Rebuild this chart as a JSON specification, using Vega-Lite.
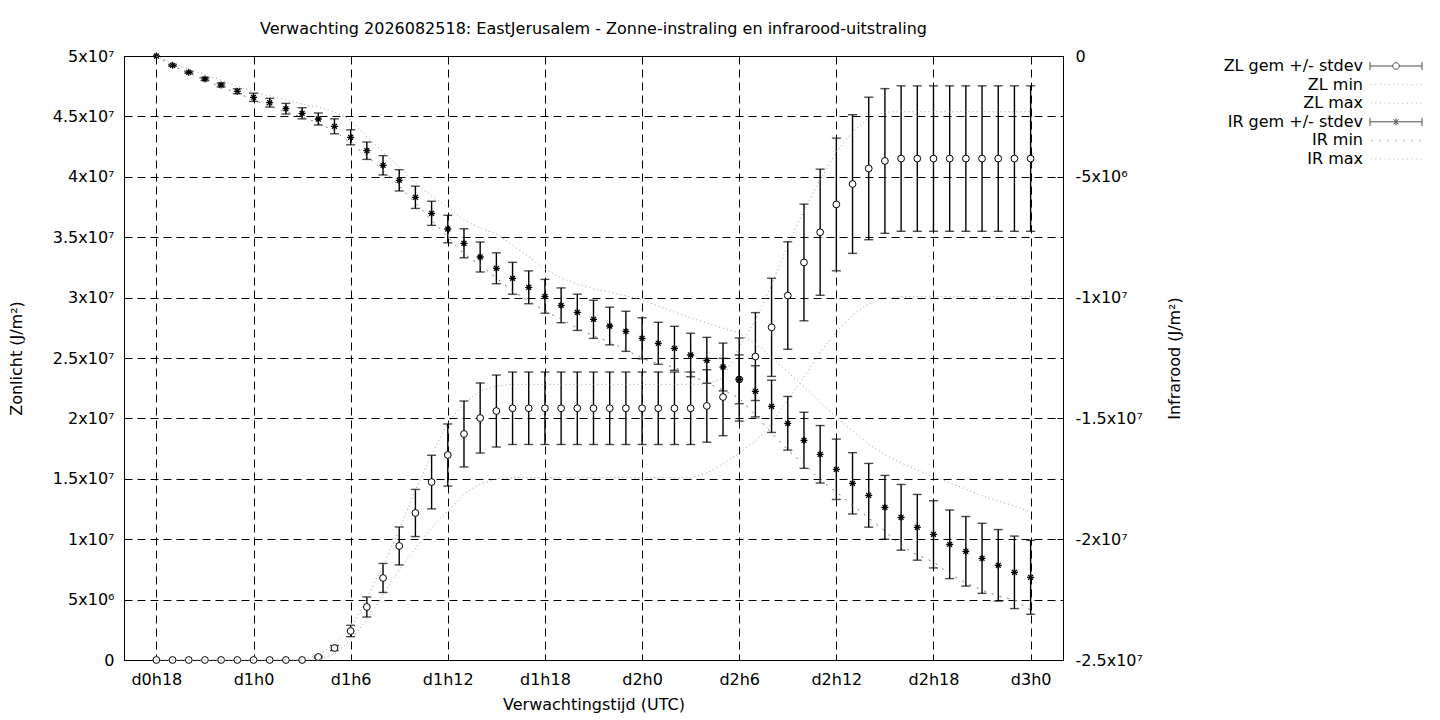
{
  "$schema": "https://vega.github.io/schema/vega-lite/v6.json",
  "width": 939,
  "height": 604,
  "autosize": "none",
  "padding": {"left": 124, "top": 56, "right": 377, "bottom": 60},
  "background": "white",
  "title": {
    "text": "Verwachting 2026082518: EastJerusalem - Zonne-instraling en infrarood-uitstraling",
    "font": "DejaVu Sans", "fontSize": 16, "fontWeight": "normal", "color": "black",
    "frame": "group", "anchor": "middle", "offset": 11
  },
  "datasets": {
    "fc": [
      {"h":18,"zl":0,"zl_sd":0,"zl_min":0,"zl_max":0,"ir":0,"ir_sd":0,"ir_min":0,"ir_max":0},
      {"h":19,"zl":0,"zl_sd":0,"zl_min":0,"zl_max":0,"ir":-385000,"ir_sd":40000,"ir_min":-414000,"ir_max":-290000},
      {"h":20,"zl":0,"zl_sd":0,"zl_min":0,"zl_max":0,"ir":-675000,"ir_sd":40000,"ir_min":-704000,"ir_max":-538000},
      {"h":21,"zl":0,"zl_sd":0,"zl_min":0,"zl_max":0,"ir":-952000,"ir_sd":60000,"ir_min":-993000,"ir_max":-786000},
      {"h":22,"zl":0,"zl_sd":0,"zl_min":0,"zl_max":0,"ir":-1200000,"ir_sd":80000,"ir_min":-1283000,"ir_max":-993000},
      {"h":23,"zl":0,"zl_sd":0,"zl_min":0,"zl_max":0,"ir":-1461000,"ir_sd":100000,"ir_min":-1531000,"ir_max":-1242000},
      {"h":24,"zl":0,"zl_sd":0,"zl_min":0,"zl_max":0,"ir":-1709000,"ir_sd":170000,"ir_min":-1821000,"ir_max":-1490000},
      {"h":25,"zl":0,"zl_sd":0,"zl_min":0,"zl_max":0,"ir":-1933000,"ir_sd":180000,"ir_min":-2070000,"ir_max":-1656000},
      {"h":26,"zl":0,"zl_sd":0,"zl_min":0,"zl_max":0,"ir":-2181000,"ir_sd":220000,"ir_min":-2318000,"ir_max":-1821000},
      {"h":27,"zl":0,"zl_sd":0,"zl_min":0,"zl_max":0,"ir":-2372000,"ir_sd":230000,"ir_min":-2525000,"ir_max":-1987000},
      {"h":28,"zl":248000,"zl_sd":80000,"zl_min":0,"zl_max":410000,"ir":-2608000,"ir_sd":250000,"ir_min":-2773000,"ir_max":-2111000},
      {"h":29,"zl":993000,"zl_sd":210000,"zl_min":500000,"zl_max":1320000,"ir":-2910000,"ir_sd":310000,"ir_min":-3104000,"ir_max":-2318000},
      {"h":30,"zl":2400000,"zl_sd":470000,"zl_min":1660000,"zl_max":2650000,"ir":-3365000,"ir_sd":310000,"ir_min":-3601000,"ir_max":-2649000},
      {"h":31,"zl":4390000,"zl_sd":830000,"zl_min":3310000,"zl_max":5130000,"ir":-3920000,"ir_sd":360000,"ir_min":-4139000,"ir_max":-3353000},
      {"h":32,"zl":6790000,"zl_sd":1200000,"zl_min":5460000,"zl_max":7780000,"ir":-4524000,"ir_sd":400000,"ir_min":-4719000,"ir_max":-3974000},
      {"h":33,"zl":9440000,"zl_sd":1570000,"zl_min":7450000,"zl_max":10760000,"ir":-5145000,"ir_sd":440000,"ir_min":-5381000,"ir_max":-4594000},
      {"h":34,"zl":12170000,"zl_sd":1950000,"zl_min":9270000,"zl_max":14070000,"ir":-5849000,"ir_sd":460000,"ir_min":-6084000,"ir_max":-5257000},
      {"h":35,"zl":14730000,"zl_sd":2220000,"zl_min":10930000,"zl_max":16970000,"ir":-6511000,"ir_sd":500000,"ir_min":-6788000,"ir_max":-5795000},
      {"h":36,"zl":16970000,"zl_sd":2570000,"zl_min":12330000,"zl_max":19620000,"ir":-7161000,"ir_sd":570000,"ir_min":-7492000,"ir_max":-6250000},
      {"h":37,"zl":18710000,"zl_sd":2730000,"zl_min":13740000,"zl_max":21270000,"ir":-7753000,"ir_sd":600000,"ir_min":-8195000,"ir_max":-6788000},
      {"h":38,"zl":20030000,"zl_sd":2900000,"zl_min":14570000,"zl_max":22270000,"ir":-8320000,"ir_sd":620000,"ir_min":-8651000,"ir_max":-7119000},
      {"h":39,"zl":20610000,"zl_sd":2980000,"zl_min":15020000,"zl_max":22680000,"ir":-8787000,"ir_sd":640000,"ir_min":-9189000,"ir_max":-7368000},
      {"h":40,"zl":20840000,"zl_sd":3000000,"zl_min":15090000,"zl_max":22820000,"ir":-9201000,"ir_sd":660000,"ir_min":-9727000,"ir_max":-7823000},
      {"h":41,"zl":20840000,"zl_sd":3000000,"zl_min":15090000,"zl_max":22820000,"ir":-9574000,"ir_sd":680000,"ir_min":-10141000,"ir_max":-8320000},
      {"h":42,"zl":20840000,"zl_sd":3000000,"zl_min":15090000,"zl_max":22820000,"ir":-9946000,"ir_sd":700000,"ir_min":-10555000,"ir_max":-8816000},
      {"h":43,"zl":20840000,"zl_sd":3000000,"zl_min":15090000,"zl_max":22820000,"ir":-10319000,"ir_sd":720000,"ir_min":-10886000,"ir_max":-9189000},
      {"h":44,"zl":20840000,"zl_sd":3000000,"zl_min":15090000,"zl_max":22820000,"ir":-10609000,"ir_sd":750000,"ir_min":-11258000,"ir_max":-9437000},
      {"h":45,"zl":20840000,"zl_sd":3000000,"zl_min":15090000,"zl_max":22820000,"ir":-10898000,"ir_sd":790000,"ir_min":-11589000,"ir_max":-9644000},
      {"h":46,"zl":20840000,"zl_sd":3000000,"zl_min":15090000,"zl_max":22820000,"ir":-11176000,"ir_sd":780000,"ir_min":-11838000,"ir_max":-9768000},
      {"h":47,"zl":20840000,"zl_sd":3000000,"zl_min":15090000,"zl_max":22820000,"ir":-11395000,"ir_sd":830000,"ir_min":-12169000,"ir_max":-9934000},
      {"h":48,"zl":20840000,"zl_sd":3000000,"zl_min":15090000,"zl_max":22820000,"ir":-11685000,"ir_sd":850000,"ir_min":-12500000,"ir_max":-10099000},
      {"h":49,"zl":20840000,"zl_sd":3000000,"zl_min":15090000,"zl_max":22820000,"ir":-11892000,"ir_sd":870000,"ir_min":-12748000,"ir_max":-10348000},
      {"h":50,"zl":20840000,"zl_sd":3000000,"zl_min":15090000,"zl_max":22820000,"ir":-12099000,"ir_sd":910000,"ir_min":-12873000,"ir_max":-10596000},
      {"h":51,"zl":20840000,"zl_sd":3000000,"zl_min":15090000,"zl_max":22820000,"ir":-12376000,"ir_sd":900000,"ir_min":-13204000,"ir_max":-10844000},
      {"h":52,"zl":21030000,"zl_sd":3000000,"zl_min":15480000,"zl_max":22820000,"ir":-12595000,"ir_sd":950000,"ir_min":-13535000,"ir_max":-11051000},
      {"h":53,"zl":21770000,"zl_sd":3200000,"zl_min":16220000,"zl_max":23340000,"ir":-12873000,"ir_sd":990000,"ir_min":-13825000,"ir_max":-11258000},
      {"h":54,"zl":23220000,"zl_sd":3440000,"zl_min":17140000,"zl_max":25910000,"ir":-13382000,"ir_sd":1010000,"ir_min":-14156000,"ir_max":-11465000},
      {"h":55,"zl":25120000,"zl_sd":3640000,"zl_min":18130000,"zl_max":28150000,"ir":-13879000,"ir_sd":1060000,"ir_min":-14860000,"ir_max":-11921000},
      {"h":56,"zl":27540000,"zl_sd":4060000,"zl_min":19620000,"zl_max":31040000,"ir":-14500000,"ir_sd":1080000,"ir_min":-15600000,"ir_max":-12459000},
      {"h":57,"zl":30170000,"zl_sd":4450000,"zl_min":21520000,"zl_max":34350000,"ir":-15203000,"ir_sd":1110000,"ir_min":-16308000,"ir_max":-13080000},
      {"h":58,"zl":32910000,"zl_sd":4830000,"zl_min":23430000,"zl_max":37250000,"ir":-15907000,"ir_sd":1160000,"ir_min":-16888000,"ir_max":-13701000},
      {"h":59,"zl":35410000,"zl_sd":5220000,"zl_min":25500000,"zl_max":39730000,"ir":-16486000,"ir_sd":1190000,"ir_min":-17550000,"ir_max":-14321000},
      {"h":60,"zl":37710000,"zl_sd":5490000,"zl_min":27150000,"zl_max":42050000,"ir":-17107000,"ir_sd":1250000,"ir_min":-18047000,"ir_max":-14942000},
      {"h":61,"zl":39400000,"zl_sd":5740000,"zl_min":28560000,"zl_max":43710000,"ir":-17687000,"ir_sd":1270000,"ir_min":-18585000,"ir_max":-15522000},
      {"h":62,"zl":40690000,"zl_sd":5900000,"zl_min":29470000,"zl_max":44870000,"ir":-18183000,"ir_sd":1320000,"ir_min":-19123000,"ir_max":-16060000},
      {"h":63,"zl":41310000,"zl_sd":5990000,"zl_min":29970000,"zl_max":45360000,"ir":-18680000,"ir_sd":1320000,"ir_min":-19661000,"ir_max":-16515000},
      {"h":64,"zl":41510000,"zl_sd":6020000,"zl_min":30070000,"zl_max":45390000,"ir":-19094000,"ir_sd":1360000,"ir_min":-20282000,"ir_max":-16846000},
      {"h":65,"zl":41510000,"zl_sd":6020000,"zl_min":30070000,"zl_max":45390000,"ir":-19508000,"ir_sd":1360000,"ir_min":-20654000,"ir_max":-17136000},
      {"h":66,"zl":41510000,"zl_sd":6020000,"zl_min":30070000,"zl_max":45390000,"ir":-19798000,"ir_sd":1390000,"ir_min":-20944000,"ir_max":-17426000},
      {"h":67,"zl":41510000,"zl_sd":6020000,"zl_min":30070000,"zl_max":45390000,"ir":-20212000,"ir_sd":1420000,"ir_min":-21441000,"ir_max":-17674000},
      {"h":68,"zl":41510000,"zl_sd":6020000,"zl_min":30070000,"zl_max":45390000,"ir":-20501000,"ir_sd":1440000,"ir_min":-21813000,"ir_max":-17922000},
      {"h":69,"zl":41510000,"zl_sd":6020000,"zl_min":30070000,"zl_max":45390000,"ir":-20791000,"ir_sd":1450000,"ir_min":-22103000,"ir_max":-18212000},
      {"h":70,"zl":41510000,"zl_sd":6020000,"zl_min":30070000,"zl_max":45390000,"ir":-21081000,"ir_sd":1480000,"ir_min":-22351000,"ir_max":-18419000},
      {"h":71,"zl":41510000,"zl_sd":6020000,"zl_min":30070000,"zl_max":45390000,"ir":-21371000,"ir_sd":1500000,"ir_min":-22517000,"ir_max":-18626000},
      {"h":72,"zl":41510000,"zl_sd":6020000,"zl_min":30070000,"zl_max":45390000,"ir":-21578000,"ir_sd":1530000,"ir_min":-22931000,"ir_max":-18874000}
    ],
    "legend": [
      {"series": "ZL gem +/- stdev"},
      {"series": "ZL min"},
      {"series": "ZL max"},
      {"series": "IR gem +/- stdev"},
      {"series": "IR min"},
      {"series": "IR max"}
    ]
  },
  "layer": [
    {
      "data": {"name": "fc"},
      "encoding": {
        "x": {
          "field": "h", "type": "quantitative", "title": "Verwachtingstijd (UTC)",
          "scale": {"domain": [16, 74], "nice": false, "zero": false},
          "axis": {
            "values": [18, 24, 30, 36, 42, 48, 54, 60, 66, 72],
            "labelExpr": "'d' + floor(datum.value / 24) + 'h' + (datum.value % 24)",
            "grid": true, "gridDash": [8, 5], "gridColor": "black",
            "labelPadding": 17, "titlePadding": 9
          }
        }
      },
      "layer": [
        {
          "transform": [{"filter": "datum.zl_sd > 0"}],
          "mark": {"type": "errorbar", "color": "black", "thickness": 1.4, "ticks": {"size": 9}},
          "encoding": {
            "y": {"field": "zl", "type": "quantitative", "title": "Zonlicht (J/m²)"},
            "yError": {"field": "zl_sd"}
          }
        },
        {
          "mark": {"type": "point", "shape": "circle", "size": 46, "filled": true, "fill": "white", "stroke": "black", "strokeWidth": 1, "opacity": 1},
          "encoding": {
            "y": {
              "field": "zl", "type": "quantitative", "title": "Zonlicht (J/m²)",
              "scale": {"domain": [0, 50000000], "nice": false},
              "axis": {
                "orient": "left",
                "values": [0, 5000000, 10000000, 15000000, 20000000, 25000000, 30000000, 35000000, 40000000, 45000000, 50000000],
                "labelExpr": "datum.value == 0 ? '0' : (abs(datum.value) >= 10000000 ? (datum.value / 10000000) + 'x10⁷' : (datum.value / 1000000) + 'x10⁶')",
                "grid": true, "gridDash": [8, 5], "gridColor": "black",
                "labelPadding": 16, "titlePadding": 28
              }
            }
          }
        },
        {
          "mark": {"type": "line", "color": "#999999", "strokeWidth": 1, "strokeDash": [1, 3]},
          "encoding": {"y": {"field": "zl_min", "type": "quantitative", "title": "Zonlicht (J/m²)"}}
        },
        {
          "mark": {"type": "line", "color": "#999999", "strokeWidth": 1, "strokeDash": [1, 3]},
          "encoding": {"y": {"field": "zl_max", "type": "quantitative", "title": "Zonlicht (J/m²)"}}
        }
      ]
    },
    {
      "data": {"name": "fc"},
      "encoding": {
        "x": {
          "field": "h", "type": "quantitative", "title": "Verwachtingstijd (UTC)",
          "scale": {"domain": [16, 74], "nice": false, "zero": false}
        }
      },
      "layer": [
        {
          "transform": [{"filter": "datum.ir_sd > 0"}],
          "mark": {"type": "errorbar", "color": "black", "thickness": 1.4, "ticks": {"size": 9}},
          "encoding": {
            "y": {"field": "ir", "type": "quantitative", "title": "Infrarood (J/m²)"},
            "yError": {"field": "ir_sd"}
          }
        },
        {
          "mark": {"type": "point", "shape": "M-1,0H1M0,-1V1M-0.7,-0.7L0.7,0.7M-0.7,0.7L0.7,-0.7", "size": 49, "filled": false, "stroke": "black", "strokeWidth": 1.3, "opacity": 1},
          "encoding": {
            "y": {
              "field": "ir", "type": "quantitative", "title": "Infrarood (J/m²)",
              "scale": {"domain": [-25000000, 0], "nice": false, "zero": false},
              "axis": {
                "orient": "right",
                "values": [-25000000, -20000000, -15000000, -10000000, -5000000, 0],
                "labelExpr": "datum.value == 0 ? '0' : (abs(datum.value) >= 10000000 ? (datum.value / 10000000) + 'x10⁷' : (datum.value / 1000000) + 'x10⁶')",
                "grid": false,
                "labelPadding": 18, "titlePadding": 24,
                "titleAngle": 270, "titleBaseline": "top"
              }
            }
          }
        },
        {
          "mark": {"type": "line", "color": "#777777", "strokeWidth": 1, "strokeDash": [2, 6]},
          "encoding": {"y": {"field": "ir_min", "type": "quantitative", "title": "Infrarood (J/m²)"}}
        },
        {
          "mark": {"type": "line", "color": "#999999", "strokeWidth": 1, "strokeDash": [1, 3]},
          "encoding": {"y": {"field": "ir_max", "type": "quantitative", "title": "Infrarood (J/m²)"}}
        }
      ]
    },
    {
      "data": {"name": "legend"},
      "transform": [{"filter": "false"}],
      "mark": {"type": "point", "filled": false},
      "encoding": {
        "shape": {
          "field": "series", "type": "nominal",
          "scale": {
            "domain": ["ZL gem +/- stdev", "ZL min", "ZL max", "IR gem +/- stdev", "IR min", "IR max"],
            "range": [
              "M-6.5,-1V1M6.5,-1V1M-6.5,0H-0.83M0.83,0H6.5M0.83,0A0.83,0.83,0,1,1,-0.83,0A0.83,0.83,0,1,1,0.83,0",
              "M-6.3,0h0.25M-5.17,0h0.25M-4.04,0h0.25M-2.91,0h0.25M-1.78,0h0.25M-0.65,0h0.25M0.48,0h0.25M1.61,0h0.25M2.74,0h0.25M3.87,0h0.25M5,0h0.25M6.13,0h0.25",
              "M-6.3,0h0.25M-5.17,0h0.25M-4.04,0h0.25M-2.91,0h0.25M-1.78,0h0.25M-0.65,0h0.25M0.48,0h0.25M1.61,0h0.25M2.74,0h0.25M3.87,0h0.25M5,0h0.25M6.13,0h0.25",
              "M-6.5,-1V1M6.5,-1V1M-6.5,0H6.5M0,-0.9V0.9M-0.65,-0.65L0.65,0.65M-0.65,0.65L0.65,-0.65",
              "M-6.2,0h0.4M-4.2,0h0.4M-2.2,0h0.4M-0.2,0h0.4M1.8,0h0.4M3.8,0h0.4M5.8,0h0.4",
              "M-6.3,0h0.25M-5.17,0h0.25M-4.04,0h0.25M-2.91,0h0.25M-1.78,0h0.25M-0.65,0h0.25M0.48,0h0.25M1.61,0h0.25M2.74,0h0.25M3.87,0h0.25M5,0h0.25M6.13,0h0.25"
            ]
          },
          "legend": {
            "title": null,
            "orient": "none",
            "legendX": 1100,
            "legendY": 2,
            "symbolSize": 64,
            "symbolStrokeWidth": 1,
            "symbolOpacity": 1,
            "symbolFillColor": "transparent",
            "symbolOffset": 164,
            "labelOffset": -41,
            "labelAlign": "right",
            "rowPadding": 2.6,
            "labelFont": "DejaVu Sans",
            "labelFontSize": 16,
            "labelColor": "black"
          }
        },
        "color": {
          "field": "series", "type": "nominal",
          "scale": {
            "domain": ["ZL gem +/- stdev", "ZL min", "ZL max", "IR gem +/- stdev", "IR min", "IR max"],
            "range": ["black", "#999999", "#999999", "black", "#777777", "#999999"]
          }
        }
      }
    }
  ],
  "resolve": {"scale": {"y": "independent"}},
  "config": {
    "view": {"stroke": "black", "strokeWidth": 1},
    "axis": {
      "labelFont": "DejaVu Sans", "labelFontSize": 16, "labelColor": "black",
      "titleFont": "DejaVu Sans", "titleFontSize": 16, "titleFontWeight": "normal", "titleColor": "black",
      "domain": false, "ticks": true, "tickColor": "black", "tickSize": -6,
      "gridOpacity": 1, "gridWidth": 1
    }
  }
}
